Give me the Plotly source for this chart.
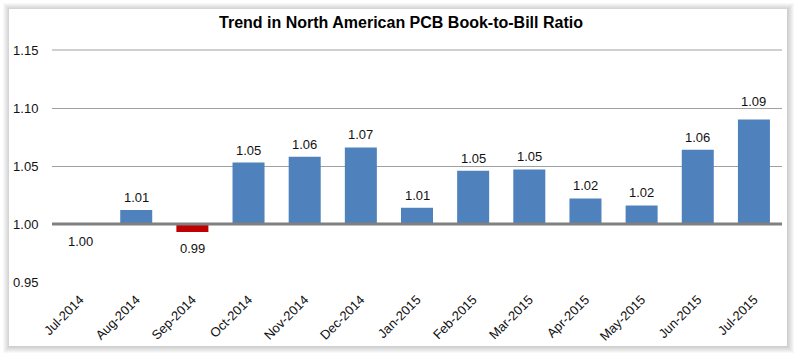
import plotly.graph_objects as go

months = ["Jul-2014", "Aug-2014", "Sep-2014", "Oct-2014", "Nov-2014", "Dec-2014",
          "Jan-2015", "Feb-2015", "Mar-2015", "Apr-2015", "May-2015", "Jun-2015", "Jul-2015"]
ratio = [0.9995, 1.012, 0.993, 1.053, 1.058, 1.066, 1.014, 1.046, 1.047, 1.022, 1.016, 1.064, 1.090]
baseline = 1.0
y_ticks = [0.95, 1.00, 1.05, 1.10, 1.15]

BLUE = "#4F81BD"
RED = "#C00000"
FONT = "Liberation Sans, Arial"

heights = [v - baseline for v in ratio]
colors = [BLUE if v >= baseline else RED for v in ratio]
labels = [f"{v:.2f}" for v in ratio]

fig = go.Figure()
fig.add_trace(go.Bar(
    x=months, y=heights, base=baseline,
    marker=dict(color=colors, line=dict(width=0)),
    hoverinfo="skip",
))

# data labels (above positive bars, below negative ones)
label_nudge = {"Jul-2015": 6}
for m, v, t in zip(months, ratio, labels):
    up = v >= baseline
    fig.add_annotation(x=m, y=v, xref="x", yref="y", text=t, showarrow=False,
                       yanchor="bottom" if up else "top",
                       yshift=(3 + label_nudge.get(m, 0)) if up else -7,
                       font=dict(family=FONT, size=13, color="#111111"))

# panel soft shadow + panel (paper coords relative to plot area)
L, R, B, T = 52, 782, 282, 49
W, H = R - L, B - T
def px(x): return (x - L) / W
def py(y): return (B - y) / H

PX0, PX1, PY0, PY1 = 9, 787, 9, 346
for d in range(7, 0, -1):
    fig.add_shape(type="rect", xref="paper", yref="paper", layer="below",
                  x0=px(PX0 - d + 1), x1=px(PX1 + d), y0=py(PY1 + d), y1=py(PY0 - d + 1),
                  fillcolor="rgba(0,0,0,0.028)", line=dict(width=0))
fig.add_shape(type="rect", xref="paper", yref="paper", layer="below",
              x0=px(PX0), x1=px(PX1), y0=py(PY1), y1=py(PY0),
              fillcolor="white", line=dict(width=0))

# top gridline (plotly drops the grid line at the very edge) and the baseline at 1.00
fig.add_shape(type="line", xref="paper", yref="y", x0=0, x1=1, y0=y_ticks[-1], y1=y_ticks[-1],
              line=dict(color="#A0A0A0", width=1), layer="below")
fig.add_shape(type="line", xref="paper", yref="y", x0=0, x1=1, y0=baseline, y1=baseline,
              line=dict(color="#808080", width=3), layer="above")

y_top = 1.15 + 0.05 / 58

fig.update_layout(
    width=796, height=355,
    margin=dict(l=L, r=796 - R, t=T, b=355 - B, autoexpand=False),
    paper_bgcolor="white", plot_bgcolor="rgba(0,0,0,0)",
    showlegend=False, bargap=0.43,
    font=dict(family=FONT, size=13, color="#111111"),
    title=dict(text="<b>Trend in North American PCB Book-to-Bill Ratio</b>",
               x=401 / 796, xref="container", xanchor="center",
               y=1 - 22 / 355, yref="container", yanchor="middle",
               font=dict(family=FONT, size=16, color="#000000")),
    xaxis=dict(tickangle=-45, showgrid=False, showline=False, zeroline=False,
               ticks="outside", ticklen=4, tickcolor="rgba(0,0,0,0)",
               tickfont=dict(family=FONT, size=13, color="#111111")),
    yaxis=dict(range=[0.95, y_top], tickvals=y_ticks, ticktext=[f"{t:.2f}" for t in y_ticks],
               showgrid=True, gridcolor="#A0A0A0", gridwidth=1, zeroline=False,
               showline=False, ticks="outside", ticklen=10, tickcolor="rgba(0,0,0,0)",
               tickfont=dict(family=FONT, size=13, color="#111111")),
)

fig.write_html("out.html", config={"displayModeBar": False, "staticPlot": True},
               post_script="document.body.style.margin='0';document.body.style.padding='0';")
